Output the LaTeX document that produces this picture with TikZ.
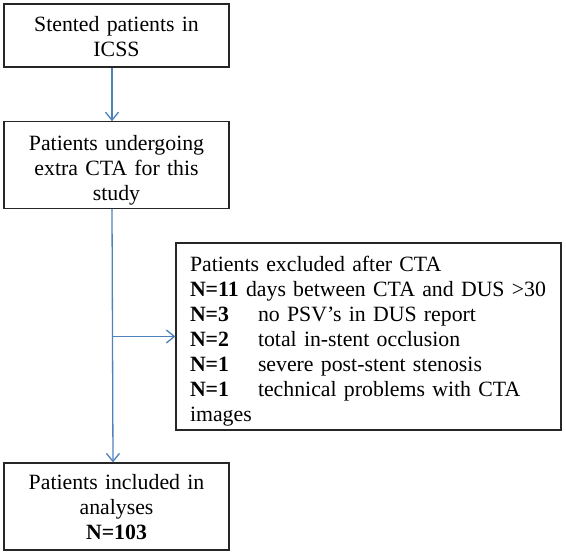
\documentclass[tikz,border=0pt]{standalone}
\usepackage{fontspec}
\setmainfont{Liberation Serif}
\usepackage{tikz}
\usetikzlibrary{arrows.meta,positioning}

\definecolor{flowblue}{RGB}{79,129,189}

\begin{document}
\begin{tikzpicture}[
    x=1pt, y=-1pt,
    stage/.style={rectangle, draw=black!85, line width=1.2pt, minimum width=225pt, text width=205pt, align=center, font=\fontsize{21.8}{25}\selectfont},
    exclbox/.style={rectangle, draw=black!85, line width=1.2pt, minimum height=185pt, text width=357pt, inner xsep=14pt, align=left, font=\fontsize{21.8}{25}\selectfont},
    link/.style={draw=flowblue, line width=1.3pt, -{Straight Barb[length=8pt,width=13pt]}}
]
\useasboundingbox (0,0) rectangle (566,554);

% Main stages
\node[stage, minimum height=63pt, text height=18pt] (stented) at (116.5, 35.5) {Stented patients in\\ICSS};
\node[stage, minimum height=86pt, text height=25pt] (extracta) at (116.5, 165) {Patients undergoing\\extra CTA for this\\study};
\node[stage, minimum height=87pt, text height=17pt] (included) at (116.5, 506.5) {Patients included in\\analyses\\\textbf{N=103}};

% Exclusions
\node[exclbox, text height=25.7pt] (excluded) at (368.5, 336.5) {Patients excluded after CTA\\
\textbf{N=11} days between CTA and DUS >30\\
\makebox[68pt][l]{\textbf{N=3}}no PSV’s in DUS report\\
\makebox[68pt][l]{\textbf{N=2}}total in-stent occlusion\\
\makebox[68pt][l]{\textbf{N=1}}severe post-stent stenosis\\
\makebox[68pt][l]{\textbf{N=1}}technical problems with CTA\\
images};

% Connections
\coordinate (split) at ([xshift=-4.5pt]extracta.south |- excluded.west);
\draw[link] ([xshift=-4.5pt]stented.south) -- ([xshift=-4.5pt]extracta.north);
\draw[link] ([xshift=-4.5pt]extracta.south) -- ([xshift=-3.5pt]included.north);
\draw[link] (split) -- (excluded.west);

\end{tikzpicture}
\end{document}
